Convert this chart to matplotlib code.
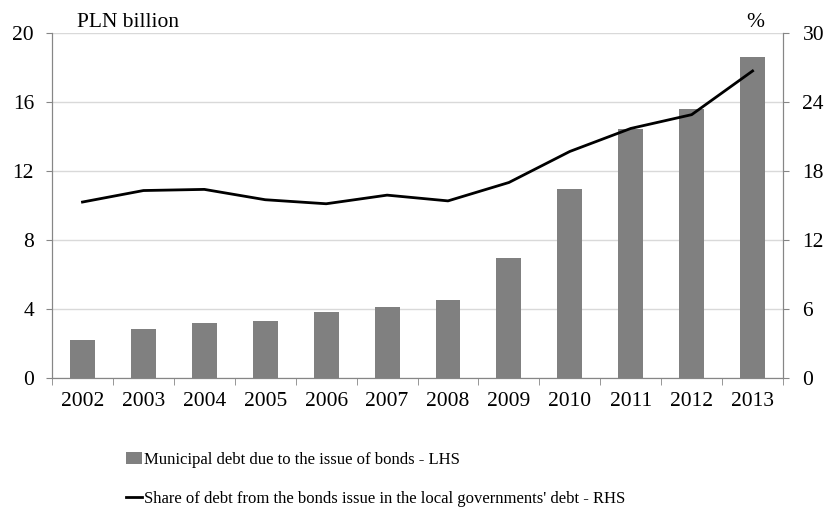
import numpy as np
import matplotlib.pyplot as plt
from matplotlib.ticker import MultipleLocator

plt.rcParams['font.family'] = ['Liberation Serif', 'DejaVu Serif']

years = ['2002', '2003', '2004', '2005', '2006', '2007',
         '2008', '2009', '2010', '2011', '2012', '2013']
debt_bonds = [2.2, 2.84, 3.17, 3.3, 3.83, 4.1, 4.52, 6.94, 10.94, 14.45, 15.6, 18.6]
share_pct = [15.3, 16.3, 16.4, 15.5, 15.15, 15.9, 15.4, 17.0, 19.7, 21.7, 22.9, 26.7]

fig = plt.figure(figsize=(8.26, 5.08), dpi=100)
ax = fig.add_axes([0.063, 0.256, 0.885, 0.679])
ax2 = ax.twinx()

x = np.arange(len(years))
ax.bar(x, debt_bonds, width=0.41, color='#808080', zorder=3,
       label='Municipal debt due to the issue of bonds - LHS')
ax2.plot(x, share_pct, color='black', lw=2,
         label="Share of debt from the bonds issue in the local governments' debt - RHS")

ax.set_xlim(-0.5, len(years) - 0.5)
ax.set_ylim(0, 20)
ax2.set_ylim(0, 30)
ax.yaxis.set_major_locator(MultipleLocator(4))
ax2.yaxis.set_major_locator(MultipleLocator(6))
ax.grid(axis='y', color='#d9d9d9', lw=1, zorder=0)
ax.set_axisbelow(True)

ax.set_xticks(x)
ax.set_xticklabels(years)
ax.set_xticks(np.arange(-0.5, len(years)), minor=True)
ax.tick_params(axis='x', which='major', length=0, labelsize=15.5, pad=10)
ax.tick_params(axis='x', which='minor', length=5, color='#868686')
ax.tick_params(axis='y', length=4, color='#868686', labelsize=15.5, pad=9)
ax2.tick_params(axis='y', length=4, color='#868686', labelsize=15.5, pad=10)

for a in (ax, ax2):
    a.spines['top'].set_visible(False)
    for s in ('left', 'right', 'bottom'):
        a.spines[s].set_color('#868686')

fig.text(0.093, 0.955, 'PLN billion', fontsize=15.5, va='center')
fig.text(0.904, 0.955, '%', fontsize=15.5, va='center')

h1, l1 = ax.get_legend_handles_labels()
h2, l2 = ax2.get_legend_handles_labels()
fig.legend(h1 + h2, l1 + l2, loc='upper left', bbox_to_anchor=(0.144, 0.124),
           frameon=False, fontsize=12, handlelength=1.0, handletextpad=0.1,
           labelspacing=1.4, borderaxespad=0)

fig.savefig('out.png', dpi=100)
